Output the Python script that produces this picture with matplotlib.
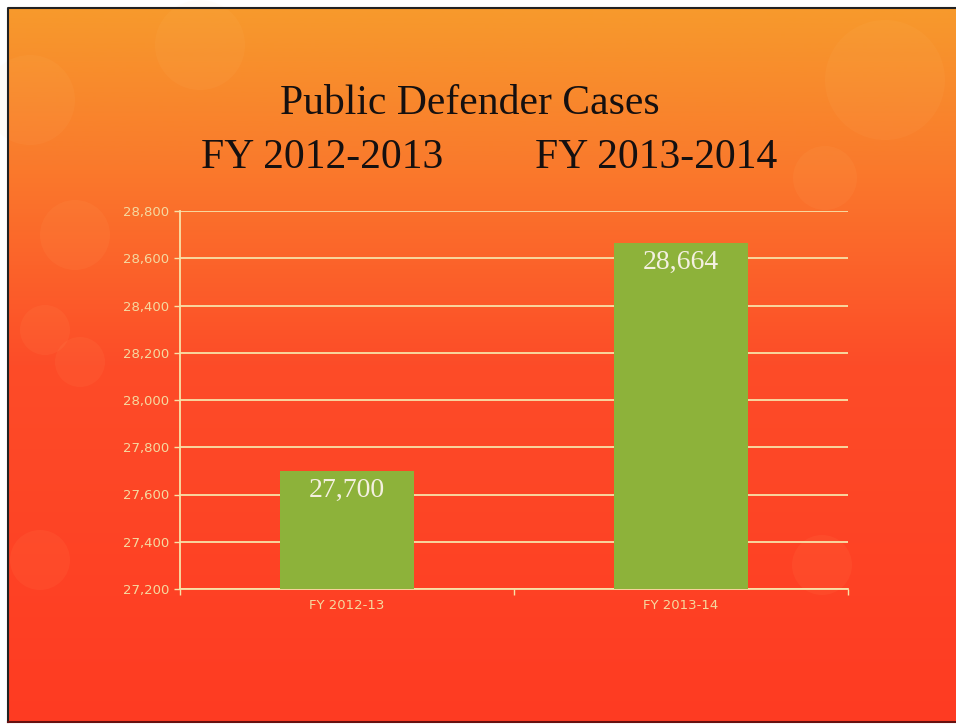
import numpy as np
import matplotlib.pyplot as plt
from matplotlib.colors import LinearSegmentedColormap
from matplotlib.patches import Circle

# Caseload figures by fiscal year
years = ['FY 2012-13', 'FY 2013-14']
cases = [27700, 28664]
yticks = [27200, 27400, 27600, 27800, 28000, 28200, 28400, 28600, 28800]

W, H = 956, 725
fig = plt.figure(figsize=(W / 100, H / 100), dpi=100)
fig.patch.set_facecolor('white')

# slide background in pixel units: orange at the top fading into red
bg = fig.add_axes([0, 0, 1, 1])
grad = np.linspace(0, 1, 1024).reshape(-1, 1)
cmap = LinearSegmentedColormap.from_list(
    'slide', [(0.0, '#f79a2c'), (0.22, '#fa7a2c'), (0.5, '#fd4c28'), (1.0, '#ff3b22')],
    N=1024)
bg.imshow(grad, aspect='auto', cmap=cmap, extent=[8, W, 3, H - 8], origin='upper',
          interpolation='bilinear')
for (cx, cy, r) in [(30, 100, 45), (885, 80, 60), (825, 178, 32), (75, 235, 35),
                    (45, 330, 25), (80, 362, 25), (40, 560, 30), (822, 565, 30),
                    (200, 45, 45)]:
    bg.add_patch(Circle((cx, H - cy), r, color='#ffd890', alpha=0.055, lw=0))
bg.plot([8, 8, W], [3, H - 8, H - 8], color='#222222', lw=1.5)
bg.plot([8, W], [3, 3], color='#661010', lw=1.5)
bg.set_xlim(0, W)
bg.set_ylim(0, H)
bg.axis('off')

# title block
serif = 'Liberation Serif'
fig.text(470 / W, 1 - 104 / H, 'Public Defender Cases', ha='center', va='center',
         family=serif, fontsize=30, color='#151010')
fig.text(322 / W, 1 - 158 / H, 'FY 2012-2013', ha='center', va='center',
         family=serif, fontsize=30, color='#151010')
fig.text(656 / W, 1 - 158 / H, 'FY 2013-2014', ha='center', va='center',
         family=serif, fontsize=30, color='#151010')

grid_col = '#f8e2a8'
ax = fig.add_axes([180 / W, 1 - 589 / H, 668 / W, 378 / H])
ax.patch.set_alpha(0)
x = np.arange(len(years))
bars = ax.bar(x, cases, width=0.4, color='#8db23a', zorder=3)
ax.set_xlim(-0.5, 1.5)
ax.set_ylim(yticks[0], yticks[-1])
ax.set_yticks(yticks)
ax.set_yticklabels([f'{v:,}' for v in yticks])
ax.set_xticks(x)
ax.set_xticklabels(years)
ax.set_xticks([-0.5, 0.5, 1.5], minor=True)
ax.grid(axis='y', color=grid_col, lw=1.3, zorder=1)
ax.tick_params(axis='y', colors=grid_col, labelcolor='#f5d9a0', labelsize=9.5,
               length=4, width=1)
ax.tick_params(axis='x', which='major', length=0, labelcolor='#f5d9a0',
               labelsize=9.5, pad=7)
ax.tick_params(axis='x', which='minor', colors=grid_col, length=4, width=1)
for side in ['top', 'right']:
    ax.spines[side].set_visible(False)
ax.spines['left'].set_color(grid_col)
ax.spines['bottom'].set_color(grid_col)
ax.spines['left'].set_linewidth(1.3)
ax.spines['bottom'].set_linewidth(1.3)

for b, v in zip(bars, cases):
    ax.annotate(f'{v:,}', (b.get_x() + b.get_width() / 2, v),
                xytext=(0, -5), textcoords='offset points', ha='center', va='top',
                family=serif, fontsize=20, color='#f4f0e0', zorder=4)

fig.savefig('out.png', dpi=100)
